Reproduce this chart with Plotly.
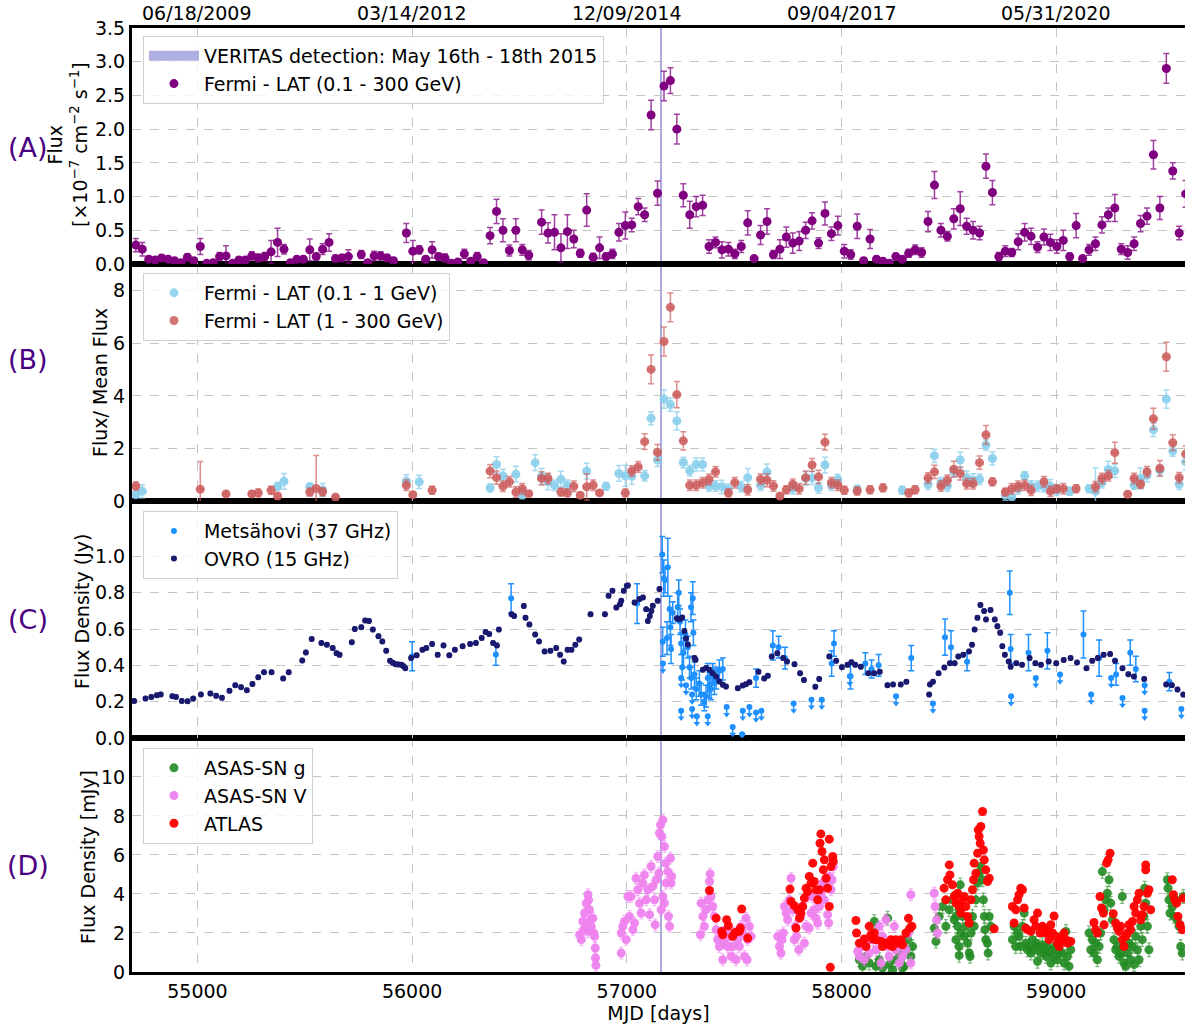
import plotly.graph_objects as go

# ---------------- Panel A : Fermi-LAT 0.1-300 GeV ----------------
fermi_mjd = [
    54713, 54743, 54773, 54803, 54833, 54863, 54893, 54923, 54953, 54983,
    55013, 55043, 55073, 55103, 55133, 55163, 55193, 55223, 55253, 55283,
    55313, 55343, 55373, 55403, 55433, 55463, 55493, 55523, 55553, 55583,
    55613, 55643, 55673, 55703, 55763, 55793, 55823, 55853, 55883, 55913,
    55973, 56003, 56033, 56063, 56093, 56123, 56153, 56183, 56213, 56243,
    56273, 56303, 56333, 56363, 56393, 56423, 56453, 56483, 56513, 56543,
    56603, 56633, 56663, 56693, 56723, 56753, 56783, 56813, 56843, 56873,
    56903, 56933, 56963, 56993, 57023, 57053, 57083, 57113, 57143, 57173,
    57203, 57233, 57263, 57293, 57323, 57353, 57383, 57413, 57443, 57473,
    57503, 57533, 57563, 57593, 57623, 57653, 57683, 57713, 57743, 57773,
    57803, 57833, 57863, 57893, 57923, 57953, 57983, 58013, 58043, 58073,
    58103, 58133, 58163, 58193, 58223, 58253, 58283, 58313, 58343, 58373,
    58403, 58433, 58463, 58493, 58523, 58553, 58583, 58613, 58643, 58673,
    58703, 58733, 58763, 58793, 58823, 58853, 58883, 58913, 58943, 58973,
    59003, 59033, 59063, 59093, 59123, 59153, 59183, 59213, 59243, 59273,
    59303, 59333, 59363, 59393, 59423, 59453, 59483, 59513, 59543, 59573,
    59603]
fermi_flux = [
    0.28, 0.22, 0.07, 0.06, 0.09, 0.07, 0.05, 0.02, 0.10, 0.05,
    0.26, 0.01, 0.02, 0.11, 0.12, 0.01, 0.06, 0.06, 0.12, 0.09,
    0.11, 0.18, 0.32, 0.22, 0.02, 0.07, 0.07, 0.21, 0.11, 0.22,
    0.32, 0.08, 0.09, 0.11, 0.14, 0.02, 0.12, 0.12, 0.09, 0.05,
    0.46, 0.19, 0.21, 0.07, 0.21, 0.11, 0.09, 0.01, 0.03, 0.15,
    0.04, 0.11, 0.02, 0.42, 0.78, 0.50, 0.20, 0.50, 0.21, 0.13,
    0.62, 0.46, 0.47, 0.24, 0.48, 0.37, 0.16, 0.80, 0.10, 0.24,
    0.11, 0.15, 0.47, 0.57, 0.58, 0.85, 0.73, 2.21, 1.05, 2.64,
    2.72, 2.00, 1.02, 0.73, 0.85, 0.87, 0.26, 0.32, 0.21, 0.22,
    0.15, 0.26, 0.61, 0.08, 0.43, 0.63, 0.14, 0.22, 0.40, 0.31,
    0.34, 0.50, 0.64, 0.31, 0.75, 0.45, 0.57, 0.19, 0.14, 0.56,
    0.05, 0.37, 0.07, 0.04, 0.01, 0.11, 0.07, 0.16, 0.21, 0.17,
    0.63, 1.17, 0.50, 0.41, 0.67, 0.82, 0.56, 0.50, 0.46, 1.45,
    1.06, 0.11, 0.19, 0.17, 0.33, 0.47, 0.41, 0.25, 0.40, 0.32,
    0.26, 0.35, 0.11, 0.57, 0.08, 0.21, 0.30, 0.58, 0.73, 0.83,
    0.22, 0.17, 0.30, 0.60, 0.71, 1.62, 0.83, 2.90, 1.38, 0.46,
    1.04]
fermi_err = [
    0.10, 0.10, 0.04, 0.04, 0.04, 0.04, 0.04, 0.03, 0.05, 0.04,
    0.12, 0.03, 0.03, 0.06, 0.15, 0.03, 0.04, 0.04, 0.06, 0.06,
    0.06, 0.17, 0.21, 0.07, 0.03, 0.04, 0.04, 0.16, 0.05, 0.08,
    0.13, 0.05, 0.05, 0.10, 0.06, 0.03, 0.07, 0.06, 0.05, 0.04,
    0.14, 0.16, 0.06, 0.04, 0.12, 0.05, 0.06, 0.03, 0.03, 0.07,
    0.03, 0.06, 0.03, 0.12, 0.18, 0.17, 0.08, 0.17, 0.08, 0.07,
    0.18, 0.15, 0.26, 0.21, 0.25, 0.13, 0.06, 0.24, 0.06, 0.16,
    0.05, 0.07, 0.13, 0.20, 0.10, 0.12, 0.10, 0.22, 0.18, 0.22,
    0.19, 0.22, 0.17, 0.20, 0.15, 0.15, 0.10, 0.08, 0.12, 0.10,
    0.07, 0.09, 0.18, 0.04, 0.14, 0.19, 0.06, 0.14, 0.15, 0.15,
    0.14, 0.12, 0.12, 0.08, 0.17, 0.10, 0.14, 0.10, 0.07, 0.18,
    0.04, 0.14, 0.04, 0.04, 0.03, 0.05, 0.04, 0.06, 0.07, 0.07,
    0.15, 0.20, 0.10, 0.07, 0.15, 0.25, 0.12, 0.13, 0.10, 0.18,
    0.18, 0.06, 0.08, 0.06, 0.12, 0.13, 0.12, 0.08, 0.12, 0.12,
    0.10, 0.15, 0.05, 0.18, 0.04, 0.08, 0.10, 0.12, 0.10, 0.20,
    0.08, 0.10, 0.10, 0.12, 0.12, 0.21, 0.17, 0.22, 0.12, 0.10,
    0.20]

# ---------------- Panel B : normalised Fermi-LAT fluxes ----------------
low_mjd = [
    54713, 54743, 55373, 55403, 55523, 55583, 55973, 56033, 56363, 56393,
    56423, 56483, 56513, 56573, 56603, 56633, 56663, 56693, 56723, 56813,
    56903, 56963, 56993, 57023, 57083, 57113, 57143, 57173, 57203, 57233,
    57263, 57293, 57323, 57353, 57383, 57413, 57443, 57473, 57533, 57563,
    57623, 57653, 57773, 57833, 57863, 57893, 57923, 57953, 57983, 58073,
    58283, 58403, 58433, 58463, 58493, 58523, 58553, 58583, 58613, 58643,
    58673, 58703, 58763, 58793, 58823, 58853, 58883, 58913, 58943, 58973,
    59003, 59063, 59153, 59183, 59213, 59243, 59273, 59363, 59393, 59423,
    59453, 59483, 59513, 59543, 59573, 59603]
low_val = [
    0.24, 0.37, 0.56, 0.75, 0.55, 0.42, 0.75, 0.73, 0.50, 1.39,
    0.96, 1.02, 0.24, 1.46, 0.94, 0.73, 0.60, 0.83, 0.60, 1.14,
    0.56, 1.05, 0.96, 0.94, 0.96, 3.15, 1.56, 3.88, 3.67, 3.05,
    1.47, 1.15, 1.39, 1.39, 0.57, 0.57, 0.54, 0.45, 0.54, 0.89,
    0.60, 1.11, 0.47, 0.86, 0.88, 0.50, 1.37, 0.60, 0.82, 0.45,
    0.41, 0.64, 1.72, 0.70, 0.57, 1.11, 1.56, 0.89, 0.79, 0.83,
    2.13, 1.62, 0.22, 0.15, 0.47, 0.96, 0.57, 0.56, 0.54, 0.57,
    0.41, 0.37, 0.47, 0.37, 0.70, 1.21, 1.15, 0.60, 0.86, 0.98,
    2.71, 1.17, 3.88, 1.90, 0.64, 1.49]
low_err = [
    0.10, 0.25, 0.15, 0.30, 0.12, 0.25, 0.25, 0.25, 0.15, 0.30,
    0.25, 0.30, 0.15, 0.30, 0.30, 0.30, 0.20, 0.30, 0.20, 0.30,
    0.15, 0.30, 0.40, 0.30, 0.20, 0.25, 0.25, 0.35, 0.25, 0.35,
    0.20, 0.20, 0.25, 0.25, 0.20, 0.20, 0.25, 0.20, 0.20, 0.35,
    0.20, 0.30, 0.20, 0.25, 0.25, 0.20, 0.30, 0.20, 0.20, 0.15,
    0.15, 0.20, 0.25, 0.20, 0.20, 0.20, 0.30, 0.25, 0.25, 0.20,
    0.20, 0.25, 0.20, 0.20, 0.20, 0.15, 0.20, 0.20, 0.20, 0.25,
    0.20, 0.15, 0.15, 0.90, 0.20, 0.30, 0.25, 0.15, 0.40, 0.25,
    0.25, 0.20, 0.35, 0.20, 0.20, 0.30]
high_mjd = [
    54713, 55013, 55133, 55253, 55283, 55343, 55373, 55523, 55553, 55583,
    55643, 55973, 56003, 56093, 56363, 56393, 56423, 56453, 56483, 56513,
    56543, 56603, 56633, 56693, 56723, 56753, 56783, 56813, 56843, 56873,
    56993, 57023, 57053, 57083, 57113, 57143, 57173, 57203, 57233, 57263,
    57293, 57323, 57353, 57383, 57413, 57473, 57503, 57563, 57623, 57653,
    57683, 57713, 57743, 57773, 57803, 57833, 57863, 57893, 57923, 57953,
    57983, 58013, 58073, 58133, 58193, 58313, 58343, 58403, 58433, 58463,
    58493, 58523, 58553, 58583, 58613, 58643, 58673, 58703, 58763, 58793,
    58823, 58853, 58883, 58943, 58973, 59003, 59033, 59093, 59183, 59213,
    59243, 59273, 59333, 59363, 59393, 59423, 59453, 59483, 59513, 59543,
    59573, 59603]
high_val = [
    0.57, 0.45, 0.27, 0.27, 0.31, 0.41, 0.19, 0.34, 0.48, 0.35,
    0.15, 0.60, 0.24, 0.41, 1.14, 0.89, 0.56, 0.73, 0.34, 0.47,
    0.28, 0.86, 0.86, 0.34, 0.31, 0.56, 0.22, 0.54, 0.60, 0.31,
    0.31, 1.14, 1.30, 2.26, 5.01, 1.85, 6.07, 7.37, 4.05, 2.29,
    0.60, 0.60, 0.70, 0.82, 1.11, 0.31, 0.70, 0.43, 0.83, 0.79,
    0.57, 0.19, 0.43, 0.64, 0.47, 0.89, 1.37, 0.92, 2.24, 0.70,
    0.60, 0.41, 0.38, 0.43, 0.50, 0.31, 0.43, 0.88, 1.11, 0.57,
    0.79, 1.21, 1.05, 0.66, 0.66, 1.46, 2.52, 0.73, 0.34, 0.47,
    0.56, 0.60, 0.41, 0.73, 0.37, 0.47, 0.47, 0.47, 0.54, 0.86,
    0.96, 1.84, 0.26, 0.86, 0.64, 1.11, 3.13, 1.24, 5.49, 2.22,
    0.89, 1.79]
high_err = [
    0.15, 1.05, 0.10, 0.10, 0.15, 0.15, 0.10, 0.15, 1.25, 0.15,
    0.08, 0.20, 0.10, 0.15, 0.25, 0.25, 0.20, 0.20, 0.20, 0.20,
    0.10, 0.25, 0.20, 0.15, 0.15, 0.20, 0.10, 0.50, 0.20, 0.10,
    0.15, 0.20, 0.20, 0.30, 0.55, 0.30, 0.55, 0.55, 0.50, 0.35,
    0.20, 0.20, 0.20, 0.20, 0.20, 0.15, 0.20, 0.20, 0.20, 0.25,
    0.20, 0.10, 0.15, 0.20, 0.20, 0.25, 0.25, 0.25, 0.30, 0.20,
    0.20, 0.15, 0.15, 0.15, 0.15, 0.15, 0.15, 0.20, 0.25, 0.20,
    0.20, 0.30, 0.25, 0.20, 0.20, 0.25, 0.35, 0.15, 0.15, 0.20,
    0.20, 0.20, 0.20, 0.20, 0.20, 0.15, 0.20, 0.15, 0.20, 0.20,
    0.20, 0.40, 0.10, 0.20, 0.15, 0.20, 0.40, 0.30, 0.55, 0.30,
    0.20, 0.30]

# ---------------- Panel C : radio ----------------
ovro_mjd = [
    54705, 54758, 54785, 54811, 54829, 54883, 54900, 54927, 54954, 54980,
    55016, 55060, 55087, 55114, 55149, 55176, 55203, 55230, 55256, 55283,
    55310, 55345, 55399, 55425, 55488, 55505, 55532, 55577, 55603, 55630,
    55648, 55662, 55719, 55733, 55763, 55781, 55799, 55817, 55843, 55861,
    55879, 55897, 55910, 55923, 55935, 55950, 55960, 55968, 55995, 56021,
    56048, 56066, 56093, 56119, 56146, 56173, 56199, 56235, 56270, 56297,
    56324, 56342, 56359, 56377, 56395, 56404, 56463, 56475, 56520, 56528,
    56546, 56573, 56591, 56617, 56644, 56671, 56689, 56706, 56724, 56742,
    56760, 56778, 56831, 56898, 56915, 56933, 56951, 56968, 56974, 56986,
    57000, 57005, 57036, 57059, 57075, 57090, 57098, 57107, 57114, 57121,
    57144, 57152, 57233, 57245, 57258, 57268, 57276, 57284, 57315, 57320,
    57354, 57369, 57385, 57400, 57416, 57431, 57447, 57462, 57517, 57540,
    57555, 57571, 57613, 57640, 57657, 57675, 57701, 57728, 57746, 57781,
    57807, 57825, 57878, 57896, 57943, 57975, 58002, 58028, 58046, 58064,
    58090, 58125, 58152, 58178, 58214, 58240, 58276, 58302, 58408, 58412,
    58426, 58452, 58479, 58505, 58527, 58544, 58567, 58594, 58608, 58620,
    58633, 58647, 58664, 58673, 58694, 58714, 58726, 58739, 58749, 58761,
    58779, 58788, 58814, 58841, 58876, 58903, 58929, 58965, 59000, 59035,
    59067, 59097, 59141, 59168, 59194, 59221, 59251, 59274, 59309, 59336,
    59362, 59410, 59512, 59539, 59565, 59592]
ovro_val = [
    0.204, 0.217, 0.226, 0.235, 0.240, 0.230, 0.226, 0.204, 0.202, 0.217,
    0.240, 0.245, 0.232, 0.221, 0.260, 0.290, 0.280, 0.263, 0.297, 0.334,
    0.362, 0.362, 0.328, 0.362, 0.427, 0.471, 0.545, 0.523, 0.514, 0.495,
    0.467, 0.458, 0.527, 0.600, 0.610, 0.647, 0.644, 0.597, 0.560, 0.532,
    0.480, 0.425, 0.415, 0.406, 0.405, 0.403, 0.395, 0.384, 0.440, 0.455,
    0.486, 0.495, 0.518, 0.458, 0.510, 0.455, 0.486, 0.505, 0.518, 0.523,
    0.551, 0.584, 0.573, 0.523, 0.510, 0.597, 0.681, 0.672, 0.727, 0.662,
    0.625, 0.570, 0.532, 0.477, 0.480, 0.495, 0.458, 0.421, 0.486, 0.486,
    0.514, 0.542, 0.681, 0.681, 0.783, 0.811, 0.718, 0.737, 0.756, 0.811,
    0.839, 0.840, 0.746, 0.765, 0.774, 0.709, 0.644, 0.672, 0.700, 0.728,
    0.756, 0.820, 0.659, 0.654, 0.663, 0.589, 0.548, 0.515, 0.441, 0.431,
    0.376, 0.385, 0.376, 0.357, 0.339, 0.311, 0.293, 0.283, 0.274, 0.289,
    0.296, 0.307, 0.365, 0.328, 0.343, 0.449, 0.467, 0.440, 0.421, 0.406,
    0.356, 0.319, 0.282, 0.325, 0.449, 0.425, 0.390, 0.403, 0.417, 0.403,
    0.393, 0.356, 0.356, 0.365, 0.291, 0.295, 0.295, 0.310, 0.239, 0.295,
    0.310, 0.356, 0.388, 0.412, 0.412, 0.449, 0.458, 0.477, 0.514, 0.597,
    0.662, 0.733, 0.699, 0.653, 0.705, 0.653, 0.616, 0.579, 0.505, 0.458,
    0.421, 0.393, 0.412, 0.403, 0.440, 0.412, 0.403, 0.421, 0.412, 0.430,
    0.440, 0.416, 0.384, 0.425, 0.440, 0.458, 0.462, 0.425, 0.384, 0.351,
    0.338, 0.325, 0.295, 0.291, 0.267, 0.239]
mets_mjd = [
    56000, 56390, 56461, 57048, 57165, 57167, 57172, 57178, 57187, 57191,
    57199, 57203, 57206, 57214, 57237, 57242, 57248, 57253, 57258, 57264,
    57273, 57284, 57292, 57299, 57300, 57307, 57310, 57315, 57323, 57338,
    57346, 57361, 57369, 57377, 57385, 57392, 57400, 57408, 57416, 57431,
    57447, 57602, 57680, 57707, 57737, 57954, 57965, 58042, 58111, 58140,
    58173, 58325, 58482, 58510, 58585, 58784, 58788, 58871, 58959, 59127,
    59200, 59279, 59345, 59371, 59527]
mets_val = [
    0.45, 0.46, 0.77, 0.74, 1.01, 0.53, 0.88, 0.87, 0.55, 0.94,
    0.71, 0.61, 0.49, 0.69, 0.72, 0.80, 0.64, 0.52, 0.39, 0.47,
    0.57, 0.50, 0.39, 0.72, 0.33, 0.77, 0.58, 0.35, 0.27, 0.30,
    0.24, 0.20, 0.23, 0.33, 0.29, 0.27, 0.35, 0.31, 0.33, 0.37,
    0.38, 0.33, 0.51, 0.50, 0.44, 0.41, 0.52, 0.34, 0.41, 0.38,
    0.40, 0.44, 0.555, 0.50, 0.42, 0.80, 0.49, 0.47, 0.48, 0.57,
    0.44, 0.35, 0.47, 0.38, 0.31]
mets_err = [
    0.08, 0.06, 0.08, 0.11, 0.10, 0.08, 0.10, 0.07, 0.09, 0.16,
    0.07, 0.10, 0.08, 0.06, 0.08, 0.07, 0.07, 0.06, 0.07, 0.08,
    0.08, 0.06, 0.06, 0.08, 0.06, 0.09, 0.07, 0.07, 0.06, 0.07,
    0.06, 0.05, 0.06, 0.08, 0.07, 0.06, 0.06, 0.07, 0.06, 0.06,
    0.06, 0.05, 0.08, 0.06, 0.06, 0.07, 0.07, 0.07, 0.06, 0.05,
    0.06, 0.07, 0.10, 0.09, 0.05, 0.12, 0.08, 0.10, 0.10, 0.13,
    0.10, 0.06, 0.07, 0.07, 0.05]
mets_ul_mjd = [
    57168, 57253, 57253, 57276, 57304, 57304, 57326, 57377, 57465, 57493,
    57537, 57540, 57571, 57602, 57627, 57777, 57860, 57908, 58039, 58254,
    58426, 58790, 58905, 59018, 59163, 59256, 59309, 59412, 59412, 59583]
mets_ul_val = [
    0.41, 0.15, 0.33, 0.29, 0.24, 0.16, 0.12, 0.12, 0.17, 0.06,
    0.02, 0.15, 0.17, 0.14, 0.15, 0.19, 0.21, 0.21, 0.34, 0.23,
    0.19, 0.23, 0.33, 0.35, 0.24, 0.33, 0.22, 0.29, 0.15, 0.16]

# ---------------- Panel D : optical ----------------
asasg_mjd = [
    58083, 58098, 58114, 58129, 58153, 58160, 58176, 58191, 58215, 58222,
    58238, 58253, 58269, 58284, 58292, 58300, 58308, 58315, 58323, 58331,
    58432, 58440, 58455, 58471, 58486, 58502, 58517, 58525, 58533, 58533,
    58541, 58548, 58548, 58548, 58553, 58556, 58564, 58572, 58579, 58587,
    58595, 58599, 58603, 58610, 58618, 58626, 58634, 58641, 58649, 58657,
    58661, 58665, 58668, 58672, 58680, 58683, 58688, 58696, 58796, 58804,
    58812, 58820, 58827, 58835, 58843, 58851, 58858, 58866, 58874, 58882,
    58889, 58897, 58905, 58913, 58920, 58928, 58936, 58944, 58952, 58959,
    58967, 58975, 58983, 58990, 58998, 59006, 59014, 59021, 59029, 59037,
    59045, 59052, 59060, 59068, 59153, 59161, 59169, 59176, 59184, 59192,
    59200, 59207, 59215, 59223, 59231, 59238, 59246, 59254, 59262, 59269,
    59277, 59285, 59293, 59301, 59308, 59316, 59324, 59332, 59339, 59347,
    59355, 59363, 59370, 59378, 59386, 59394, 59401, 59409, 59412, 59417,
    59425, 59432, 59518, 59521, 59525, 59530, 59541, 59549, 59556, 59564,
    59572, 59580, 59587, 59592]
asasg_val = [
    0.63, 0.29, 0.80, 0.46, 2.59, 0.29, 0.63, 0.20, 2.76, 0.38,
    0.12, 0.63, 0.97, 0.20, 0.29, 1.14, 1.66, 2.17, 0.80, 1.31,
    2.25, 1.57, 2.85, 3.36, 2.34, 3.19, 3.70, 2.68, 2.85, 1.66,
    2.34, 3.19, 1.31, 0.85, 4.47, 2.00, 2.85, 1.83, 2.34, 1.48,
    0.97, 0.80, 2.00, 2.85, 2.34, 3.70, 4.56, 5.07, 5.41, 4.73,
    3.70, 2.85, 2.17, 1.66, 1.48, 0.97, 2.85, 2.34, 1.66, 2.34,
    1.31, 2.00, 1.83, 1.31, 2.34, 3.02, 1.48, 1.14, 1.31, 0.97,
    1.66, 1.14, 1.48, 0.55, 1.31, 0.97, 1.40, 1.14, 0.80, 1.31,
    0.97, 0.46, 1.14, 0.80, 1.31, 0.63, 1.06, 1.66, 0.97, 0.46,
    2.08, 0.80, 0.29, 1.14, 2.00, 1.14, 1.66, 0.97, 1.48, 0.63,
    1.31, 2.00, 5.15, 3.19, 3.70, 4.04, 4.73, 3.53, 2.68, 1.66,
    1.14, 1.31, 0.80, 0.97, 3.87, 0.46, 0.29, 0.97, 1.48, 0.63,
    1.31, 0.38, 1.83, 1.14, 0.63, 2.34, 1.66, 2.85, 4.30, 3.53,
    2.34, 1.14, 4.73, 4.30, 3.70, 3.02, 3.36, 2.85, 3.70, 2.68,
    2.34, 1.31, 0.97, 3.87]
asasv_mjd = [
    56780, 56788, 56795, 56800, 56803, 56811, 56811, 56819, 56819, 56822,
    56826, 56831, 56834, 56842, 56846, 56850, 56853, 56854, 56856, 56974,
    56974, 56981, 56989, 56997, 57005, 57012, 57020, 57028, 57036, 57043,
    57051, 57059, 57067, 57074, 57082, 57090, 57098, 57106, 57113, 57121,
    57129, 57132, 57137, 57144, 57149, 57152, 57157, 57160, 57163, 57168,
    57168, 57175, 57175, 57180, 57183, 57191, 57194, 57199, 57203, 57206,
    57209, 57343, 57346, 57354, 57361, 57369, 57377, 57385, 57388, 57392,
    57400, 57408, 57416, 57423, 57431, 57439, 57447, 57454, 57462, 57470,
    57478, 57486, 57493, 57501, 57509, 57517, 57524, 57532, 57540, 57548,
    57555, 57560, 57563, 57571, 57579, 57703, 57711, 57718, 57723, 57729,
    57734, 57742, 57749, 57757, 57765, 57773, 57780, 57785, 57791, 57801,
    57804, 57811, 57819, 57827, 57835, 57842, 57850, 57858, 57866, 57873,
    57881, 57889, 57897, 57904, 57912, 57920, 57928, 57935, 57940, 57943,
    57951, 57956, 57962, 58075, 58083, 58091, 58106, 58114, 58129, 58145,
    58160, 58176, 58184, 58191, 58207, 58215, 58222, 58238, 58246, 58253,
    58269, 58277, 58284, 58300, 58312, 58323, 58323, 58432, 58436, 58443,
    58447]
asasv_val = [
    1.91, 1.66, 2.59, 2.17, 3.02, 3.53, 2.34, 3.96, 2.08, 3.70,
    3.19, 2.68, 2.34, 2.76, 2.00, 1.83, 1.23, 0.72, 0.34, 0.97,
    2.00, 2.34, 2.59, 1.66, 3.87, 2.85, 3.87, 2.17, 2.51, 4.81,
    4.22, 3.53, 3.02, 4.56, 4.98, 3.70, 4.22, 2.94, 5.41, 4.39,
    3.70, 2.42, 4.73, 5.92, 5.07, 7.12, 7.54, 3.19, 6.95, 7.80,
    3.87, 6.43, 3.53, 5.58, 4.56, 5.15, 2.85, 2.34, 5.84, 4.56,
    4.90, 1.91, 3.53, 2.85, 2.34, 3.19, 3.70, 4.64, 5.03, 3.87,
    3.36, 2.85, 2.17, 1.66, 1.31, 2.00, 0.63, 1.48, 2.17, 1.31,
    1.83, 0.80, 1.31, 2.00, 0.63, 1.66, 1.31, 2.34, 2.00, 0.80,
    2.76, 0.63, 1.66, 2.34, 1.83, 1.83, 1.31, 0.97, 1.66, 2.00,
    3.36, 3.02, 2.68, 3.70, 4.81, 3.19, 1.66, 2.34, 1.83, 1.14,
    3.02, 2.85, 3.36, 1.48, 2.34, 3.87, 2.25, 3.02, 3.87, 3.19,
    2.76, 2.51, 3.36, 4.04, 4.56, 3.70, 4.56, 2.94, 2.51, 4.90,
    4.22, 4.73, 5.41, 1.06, 0.80, 1.31, 0.63, 1.48, 0.97, 1.66,
    1.14, 2.34, 0.46, 1.83, 2.68, 1.31, 0.80, 1.48, 2.34, 1.14,
    0.46, 1.31, 0.80, 1.14, 2.00, 3.96, 0.46, 4.04, 3.36, 2.68,
    2.00]
atlas_mjd = [
    57385, 57416, 57442, 57447, 57465, 57473, 57493, 57504, 57524, 57529,
    57535, 57563, 57760, 57765, 57780, 57788, 57796, 57804, 57811, 57819,
    57827, 57835, 57842, 57850, 57858, 57866, 57873, 57881, 57889, 57897,
    57900, 57904, 57909, 57915, 57920, 57928, 57935, 57943, 57943, 57948,
    57951, 57959, 57962, 58067, 58070, 58083, 58106, 58114, 58129, 58137,
    58145, 58153, 58160, 58184, 58191, 58207, 58222, 58230, 58238, 58253,
    58269, 58277, 58284, 58300, 58312, 58319, 58328, 58478, 58486, 58494,
    58502, 58505, 58517, 58525, 58533, 58533, 58541, 58548, 58556, 58564,
    58572, 58579, 58587, 58595, 58603, 58610, 58615, 58618, 58626, 58634,
    58637, 58641, 58646, 58649, 58657, 58661, 58665, 58672, 58680, 58688,
    58711, 58796, 58804, 58812, 58820, 58827, 58835, 58843, 58851, 58858,
    58866, 58882, 58897, 58905, 58913, 58925, 58936, 58944, 58952, 58959,
    58967, 58975, 58983, 58990, 58998, 59006, 59014, 59021, 59029, 59037,
    59045, 59052, 59060, 59068, 59176, 59184, 59192, 59204, 59211, 59220,
    59223, 59235, 59242, 59251, 59266, 59277, 59285, 59293, 59301, 59308,
    59316, 59324, 59332, 59339, 59347, 59355, 59363, 59370, 59378, 59386,
    59394, 59401, 59409, 59417, 59417, 59425, 59432, 59440, 59541, 59546,
    59552, 59561, 59567, 59577, 59587, 59592]
atlas_val = [
    4.18, 2.76, 2.08, 1.91, 2.68, 2.37, 1.83, 2.03, 2.08, 2.25,
    3.23, 1.74, 4.25, 3.62, 3.40, 2.25, 3.19, 2.76, 3.02, 3.36,
    3.79, 4.30, 4.13, 4.90, 4.56, 5.58, 4.64, 4.22, 3.70, 4.22,
    6.60, 7.08, 6.18, 5.24, 5.75, 4.81, 4.30, 6.81, 3.36, 0.24,
    5.41, 5.92, 5.67, 2.64, 2.00, 1.48, 1.69, 1.31, 2.34, 1.91,
    1.69, 2.00, 1.66, 1.57, 1.31, 1.48, 1.40, 1.66, 1.31, 1.66,
    1.48, 1.66, 1.40, 2.00, 2.76, 2.25, 2.34, 4.30, 3.70, 4.73,
    5.49, 4.98, 4.47, 3.87, 3.96, 3.53, 4.04, 3.36, 3.02, 3.70,
    3.87, 3.36, 2.85, 2.51, 3.70, 4.22, 4.73, 5.58, 5.07, 6.09,
    7.29, 6.95, 6.60, 7.46, 8.23, 6.26, 5.75, 5.24, 4.64, 4.81,
    2.22, 3.36, 2.51, 3.19, 3.70, 3.96, 4.30, 4.22, 3.28, 2.25,
    2.17, 2.08, 2.68, 2.34, 3.02, 2.00, 2.34, 2.25, 2.00, 2.08,
    1.66, 2.42, 2.00, 2.87, 1.83, 1.48, 1.31, 1.57, 1.83, 2.00,
    1.66, 1.48, 1.57, 1.57, 2.54, 2.17, 2.00, 3.87, 3.28, 3.02,
    2.42, 5.58, 5.75, 6.09, 2.99, 2.51, 2.25, 2.08, 2.34, 1.66,
    1.31, 1.83, 2.00, 2.42, 2.17, 2.59, 3.36, 3.02, 3.70, 4.04,
    2.68, 2.94, 3.36, 5.49, 5.24, 4.04, 4.22, 3.19, 4.73, 3.96,
    3.70, 3.53, 2.85, 2.42, 2.17, 3.79]

# ---------------- axes text ----------------
mjd_ticks = [55000, 56000, 57000, 58000, 59000]
mjd_tick_text = ["55000", "56000", "57000", "58000", "59000"]
date_labels = ["06/18/2009", "03/14/2012", "12/09/2014", "09/04/2017", "05/31/2020"]
veritas_start, veritas_end = 57158, 57160
mjd_range = [54695, 59600]

for a, b in [(fermi_mjd, fermi_flux), (fermi_mjd, fermi_err), (low_mjd, low_val), (low_mjd, low_err),
             (high_mjd, high_val), (high_mjd, high_err), (ovro_mjd, ovro_val), (mets_mjd, mets_val),
             (mets_mjd, mets_err), (mets_ul_mjd, mets_ul_val), (asasg_mjd, asasg_val),
             (asasv_mjd, asasv_val), (atlas_mjd, atlas_val)]:
    assert len(a) == len(b), (len(a), len(b))

FONT = "DejaVu Sans"
BAND = "rgba(110,110,200,0.55)"
fig = go.Figure()

# Panel A
fig.add_trace(go.Scatter(
    x=[None], y=[None], mode="lines", line=dict(color=BAND, width=14),
    name="VERITAS detection: May 16th - 18th 2015", xaxis="x4", yaxis="y4", legend="legend"))
fig.add_trace(go.Scatter(
    x=fermi_mjd, y=fermi_flux, mode="markers", name="Fermi - LAT (0.1 - 300 GeV)",
    marker=dict(color="purple", size=9),
    error_y=dict(type="data", array=fermi_err, color="rgba(128,0,128,0.75)", thickness=1.5, width=3),
    error_x=dict(type="constant", value=15, color="rgba(128,0,128,0.75)", thickness=1.2, width=2),
    xaxis="x4", yaxis="y4", legend="legend"))

# Panel B
fig.add_trace(go.Scatter(
    x=low_mjd, y=low_val, mode="markers", name="Fermi - LAT (0.1 - 1 GeV)",
    marker=dict(color="rgba(135,206,235,0.85)", size=9),
    error_y=dict(type="data", array=low_err, color="rgba(135,206,235,0.75)", thickness=1.5, width=3),
    error_x=dict(type="constant", value=15, color="rgba(135,206,235,0.75)", thickness=1.2, width=2),
    xaxis="x3", yaxis="y3", legend="legend2"))
fig.add_trace(go.Scatter(
    x=high_mjd, y=high_val, mode="markers", name="Fermi - LAT (1 - 300 GeV)",
    marker=dict(color="rgba(205,92,92,0.85)", size=9),
    error_y=dict(type="data", array=high_err, color="rgba(205,92,92,0.7)", thickness=1.5, width=3),
    error_x=dict(type="constant", value=15, color="rgba(205,92,92,0.7)", thickness=1.2, width=2),
    xaxis="x3", yaxis="y3", legend="legend2"))

# Panel C
fig.add_trace(go.Scatter(
    x=mets_mjd, y=mets_val, mode="markers", name="Metsähovi (37 GHz)",
    marker=dict(color="#1E90FF", size=6),
    error_y=dict(type="data", array=mets_err, color="#1E90FF", thickness=1.5, width=3),
    xaxis="x2", yaxis="y2", legend="legend3"))
fig.add_trace(go.Scatter(
    x=mets_ul_mjd, y=mets_ul_val, mode="markers", showlegend=False,
    marker=dict(color="#1E90FF", size=6),
    error_y=dict(type="constant", symmetric=False, value=0, valueminus=0.04,
                 color="#1E90FF", thickness=1.5, width=0),
    xaxis="x2", yaxis="y2", legend="legend3"))
fig.add_trace(go.Scatter(
    x=mets_ul_mjd, y=[v - 0.04 for v in mets_ul_val], mode="markers", showlegend=False,
    marker=dict(color="#1E90FF", size=6, symbol="triangle-down"),
    xaxis="x2", yaxis="y2", legend="legend3"))
fig.add_trace(go.Scatter(
    x=ovro_mjd, y=ovro_val, mode="markers", name="OVRO (15 GHz)",
    marker=dict(color="#191970", size=6),
    error_y=dict(type="constant", value=0.012, color="rgba(25,25,112,0.7)", thickness=1, width=2),
    xaxis="x2", yaxis="y2", legend="legend3"))

# Panel D
fig.add_trace(go.Scatter(
    x=asasg_mjd, y=asasg_val, mode="markers", name="ASAS-SN g",
    marker=dict(color="rgba(34,139,34,0.9)", size=9),
    error_y=dict(type="constant", value=0.35, color="rgba(34,139,34,0.6)", thickness=1.2, width=2),
    xaxis="x", yaxis="y", legend="legend4"))
fig.add_trace(go.Scatter(
    x=asasv_mjd, y=asasv_val, mode="markers", name="ASAS-SN V",
    marker=dict(color="rgba(238,130,238,0.95)", size=9),
    error_y=dict(type="constant", value=0.3, color="rgba(238,130,238,0.6)", thickness=1.2, width=2),
    xaxis="x", yaxis="y", legend="legend4"))
fig.add_trace(go.Scatter(
    x=atlas_mjd, y=atlas_val, mode="markers", name="ATLAS",
    marker=dict(color="rgba(255,0,0,0.95)", size=9),
    error_y=dict(type="constant", value=0.15, color="rgba(255,0,0,0.6)", thickness=1.2, width=2),
    xaxis="x", yaxis="y", legend="legend4"))

# VERITAS band in every panel
for xr, yr in [("x4", "y4"), ("x3", "y3"), ("x2", "y2"), ("x", "y")]:
    fig.add_shape(type="rect", xref=xr, yref=yr + " domain", x0=veritas_start, x1=veritas_end,
                  y0=0, y1=1, line=dict(color=BAND, width=1.5), fillcolor=BAND, layer="below")

grid = dict(showgrid=True, gridcolor="#c4c4c4", griddash="dash", gridwidth=0.8, zeroline=False,
            automargin=False)
xcommon = dict(range=mjd_range, tickvals=mjd_ticks, showline=True, linewidth=3, linecolor="black",
               mirror=True, **grid)
ycommon = dict(showline=True, linewidth=3, linecolor="black", ticks="", **grid)

dD = [0.0, 0.2479]
dC = [0.2479, 0.4989]
dB = [0.4989, 0.75]
dA = [0.75, 1.0]

leg = dict(bgcolor="rgba(255,255,255,0.8)", bordercolor="#d0d0d0", borderwidth=1, itemwidth=50,
           font=dict(family=FONT, size=19, color="black"), xanchor="left", yanchor="top", x=0.0104)

fig.update_layout(
    width=1185, height=1026,
    margin=dict(l=132, r=0, t=28, b=54),
    paper_bgcolor="white", plot_bgcolor="rgba(0,0,0,0)",
    font=dict(family=FONT, size=19, color="black"),
    xaxis=dict(domain=[0, 1], anchor="y", ticks="", ticktext=mjd_tick_text,
               title=dict(text="MJD [days]", standoff=2, font=dict(size=19)), **xcommon),
    xaxis2=dict(domain=[0, 1], anchor="y2", matches="x", showticklabels=False, **xcommon),
    xaxis3=dict(domain=[0, 1], anchor="y3", matches="x", showticklabels=False, **xcommon),
    xaxis4=dict(domain=[0, 1], anchor="y4", matches="x", side="top", showticklabels=False, **xcommon),
    yaxis=dict(domain=dD, anchor="x", range=[0, 12], tickvals=[0, 2, 4, 6, 8, 10], **ycommon),
    yaxis2=dict(domain=dC, anchor="x2", range=[0, 1.305], tickvals=[0, 0.2, 0.4, 0.6, 0.8, 1.0],
                tickformat=".1f", **ycommon),
    yaxis3=dict(domain=dB, anchor="x3", range=[0, 9.02], tickvals=[0, 2, 4, 6, 8], **ycommon),
    yaxis4=dict(domain=dA, anchor="x4", range=[0, 3.5], tickvals=[0, 0.5, 1, 1.5, 2, 2.5, 3, 3.5],
                tickformat=".1f", **ycommon),
    legend=dict(y=0.9915, **leg),
    legend2=dict(y=0.7405, **leg),
    legend3=dict(y=0.4883, **leg),
    legend4=dict(y=0.2373, **leg),
)

# top axis: calendar dates at the MJD grid positions
for mjd, lab in zip(mjd_ticks, date_labels):
    fig.add_annotation(text=lab, xref="x4", yref="paper", x=mjd, y=1, yshift=2,
                       showarrow=False, xanchor="center", yanchor="bottom",
                       font=dict(family=FONT, size=19, color="black"))

def px_x(p):
    return (p - 132) / 1053.0

def px_y(p):
    return (972 - p) / 944.0

for lab, yc in [("(A)", 147), ("(B)", 360), ("(C)", 619), ("(D)", 865)]:
    fig.add_annotation(text=lab, xref="paper", yref="paper", x=px_x(28), y=px_y(yc),
                       showarrow=False, xanchor="center", yanchor="middle",
                       font=dict(family=FONT, size=27, color="indigo"))

ytitles = [
    ("Flux<br>[×10<sup>−7</sup> cm<sup>−2</sup> s<sup>−1</sup>]", 68, 145),
    ("Flux/ Mean Flux", 100, 383),
    ("Flux Density (Jy)", 82, 612),
    ("Flux Density [mJy]", 88, 857),
]
for txt, xc, yc in ytitles:
    fig.add_annotation(text=txt, xref="paper", yref="paper", x=px_x(xc), y=px_y(yc),
                       showarrow=False, textangle=-90, xanchor="center", yanchor="middle",
                       font=dict(family=FONT, size=19, color="black"))

# remove the default 8px page margin so the figure fills the window exactly
fig.write_html("out.html", config={"displayModeBar": False},
               post_script="document.body.style.margin='0px';")
